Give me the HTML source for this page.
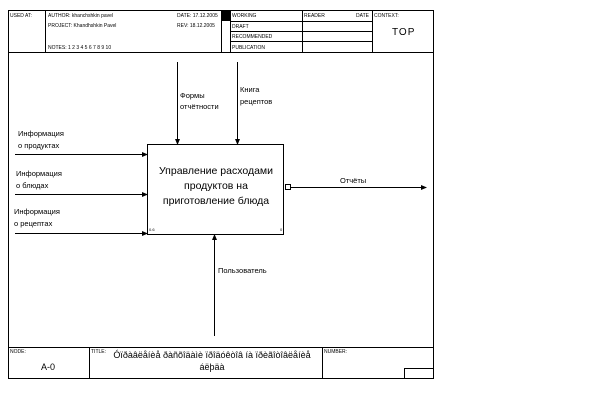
<!DOCTYPE html>
<html><head><meta charset="utf-8"><style>
body{margin:0;background:#fff;}
svg{display:block;font-family:"Liberation Sans",sans-serif;}
</style></head><body>
<svg width="600" height="409" viewBox="0 0 600 409" xmlns="http://www.w3.org/2000/svg">
<defs><marker id="a" markerWidth="6" markerHeight="6" refX="5" refY="3" orient="auto" markerUnits="userSpaceOnUse"><path d="M0,0.5 L6,3 L0,5.5z" fill="#000"/></marker></defs>
<g stroke="#000" fill="none" stroke-width="1">
<rect x="8.5" y="10.5" width="425" height="368"/>
<line x1="8" y1="52.5" x2="434" y2="52.5"/>
<line x1="45.5" y1="10" x2="45.5" y2="52"/>
<line x1="221.5" y1="10" x2="221.5" y2="52"/>
<line x1="230.5" y1="10" x2="230.5" y2="52"/>
<line x1="302.5" y1="10" x2="302.5" y2="52"/>
<line x1="372.5" y1="10" x2="372.5" y2="52"/>
<line x1="230" y1="21.5" x2="372" y2="21.5"/>
<line x1="230" y1="31.5" x2="372" y2="31.5"/>
<line x1="230" y1="41.5" x2="372" y2="41.5"/>
<line x1="8" y1="347.5" x2="434" y2="347.5"/>
<line x1="89.5" y1="347" x2="89.5" y2="378"/>
<line x1="322.5" y1="347" x2="322.5" y2="378"/>
<polyline points="404.5,378 404.5,368.5 433,368.5"/>
<rect x="147.5" y="144.5" width="136" height="90"/>
<line x1="15" y1="154.5" x2="147" y2="154.5" marker-end="url(#a)"/>
<line x1="15" y1="194.5" x2="147" y2="194.5" marker-end="url(#a)"/>
<line x1="15" y1="233.5" x2="147" y2="233.5" marker-end="url(#a)"/>
<line x1="177.5" y1="62" x2="177.5" y2="144" marker-end="url(#a)"/>
<line x1="237.5" y1="62" x2="237.5" y2="144" marker-end="url(#a)"/>
<line x1="290" y1="187.5" x2="426" y2="187.5" marker-end="url(#a)"/>
<rect x="285.5" y="184.5" width="5" height="5"/>
<line x1="214.5" y1="336" x2="214.5" y2="235" marker-end="url(#a)"/>
</g>
<rect x="222" y="11" width="8" height="10" fill="#000"/>
<g font-size="5" fill="#000">
<text x="10" y="17">USED AT:</text>
<text x="48" y="17">AUTHOR: khanchshkin pavel</text>
<text x="48" y="27">PROJECT: Khandhshkin Pavel</text>
<text x="48" y="49">NOTES:  1 2 3 4 5 6 7 8 9 10</text>
<text x="177" y="17">DATE: 17.12.2005</text>
<text x="177" y="27">REV:  18.12.2005</text>
<text x="232" y="17">WORKING</text>
<text x="232" y="28">DRAFT</text>
<text x="232" y="38">RECOMMENDED</text>
<text x="232" y="49">PUBLICATION</text>
<text x="304" y="17">READER</text>
<text x="356" y="17">DATE</text>
<text x="374" y="17">CONTEXT:</text>
<text x="10" y="353">NODE:</text>
<text x="91" y="353">TITLE:</text>
<text x="324" y="353">NUMBER:</text>
<text x="149" y="231" font-size="4">0.6</text>
<text x="280" y="231" font-size="4">0</text>
</g>
<text x="392" y="35" font-size="10" letter-spacing="1">TOP</text>
<text x="41" y="370" font-size="9">A-0</text>
<text x="212" y="358" font-size="9" text-anchor="middle">Óïðàâëåíèå ðàñõîäàìè ïðîäóêòîâ íà ïðèãîòîâëåíèå</text>
<text x="212" y="370" font-size="9" text-anchor="middle">áëþäà</text>
<g font-size="10.5" text-anchor="middle">
<text x="216" y="174">Управление расходами</text>
<text x="216" y="189">продуктов на</text>
<text x="216" y="204">приготовление блюда</text>
</g>
<g font-size="7.5">
<text x="18" y="136">Информация</text>
<text x="18" y="148">о продуктах</text>
<text x="16" y="176">Информация</text>
<text x="16" y="188">о блюдах</text>
<text x="14" y="214">Информация</text>
<text x="14" y="226">о рецептах</text>
<text x="180" y="98">Формы</text>
<text x="180" y="109">отчётности</text>
<text x="240" y="92">Книга</text>
<text x="240" y="104">рецептов</text>
<text x="340" y="183">Отчёты</text>
<text x="218" y="273">Пользователь</text>
</g>
</svg>
</body></html>
